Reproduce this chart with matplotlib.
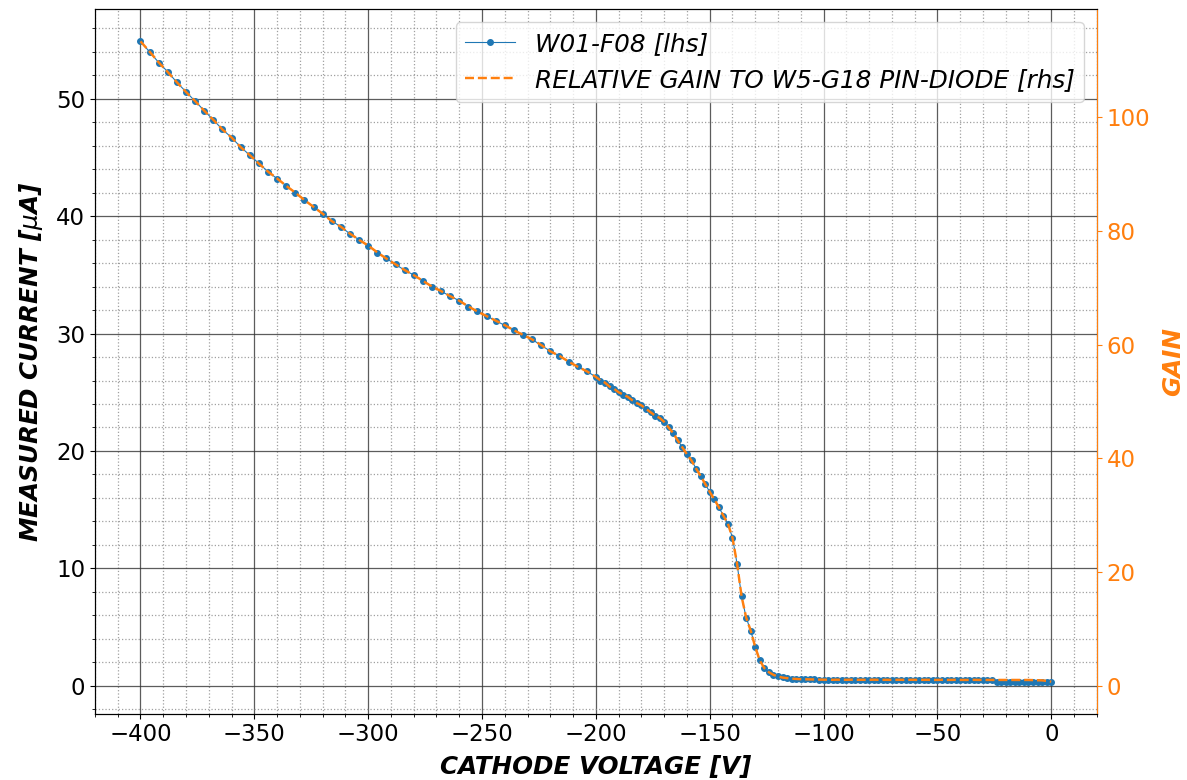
import matplotlib
matplotlib.use("Agg")
import matplotlib.pyplot as plt
from matplotlib.ticker import MultipleLocator

# Cathode voltage [V]
voltage = [
    -400, -396, -392, -388, -384, -380, -376, -372, -368, -364,
    -360, -356, -352, -348, -344, -340, -336, -332, -328, -324,
    -320, -316, -312, -308, -304, -300, -296, -292, -288, -284,
    -280, -276, -272, -268, -264, -260, -256, -252, -248, -244,
    -240, -236, -232, -228, -224, -220, -216, -212, -208, -204,
    -200, -198, -196, -194, -192, -190, -188, -186, -184, -182,
    -180, -178, -176, -174, -172, -170, -168, -166, -164, -162,
    -160, -158, -156, -154, -152, -150, -148, -146, -144, -142,
    -140, -138, -136, -134, -132, -130, -128, -126, -124, -122,
    -120, -118, -116, -114, -112, -110, -108, -106, -104, -102,
    -100, -98, -96, -94, -92, -90, -88, -86, -84, -82,
    -80, -78, -76, -74, -72, -70, -68, -66, -64, -62,
    -60, -58, -56, -54, -52, -50, -48, -46, -44, -42,
    -40, -38, -36, -34, -32, -30, -28, -26, -24, -22,
    -20, -18, -16, -14, -12, -10, -8, -6, -4, -2,
    0,
]

# Measured current of W01-F08 [uA]
current = [
    54.9, 54.0, 53.1, 52.3, 51.4, 50.6, 49.8, 49.0, 48.2, 47.4,
    46.7, 45.9, 45.2, 44.5, 43.8, 43.2, 42.6, 42.0, 41.4, 40.8,
    40.2, 39.6, 39.1, 38.5, 38.0, 37.5, 36.9, 36.4, 35.9, 35.4,
    35.0, 34.5, 34.0, 33.6, 33.2, 32.8, 32.3, 31.9, 31.5, 31.1,
    30.7, 30.3, 29.9, 29.5, 29.0, 28.5, 28.1, 27.6, 27.2, 26.8,
    26.3, 26.0, 25.8, 25.5, 25.3, 25.0, 24.8, 24.6, 24.3, 24.1,
    23.9, 23.6, 23.3, 23.0, 22.8, 22.5, 22.0, 21.5, 20.9, 20.3,
    19.7, 19.2, 18.5, 17.9, 17.2, 16.5, 15.9, 15.2, 14.5, 13.8,
    12.6, 10.4, 7.6, 5.8, 4.7, 3.3, 2.15, 1.5, 1.16, 0.93,
    0.79, 0.70, 0.65, 0.61, 0.58, 0.56, 0.55, 0.54, 0.53, 0.52,
    0.52, 0.52, 0.51, 0.52, 0.51, 0.51, 0.52, 0.51, 0.51, 0.51,
    0.51, 0.52, 0.51, 0.51, 0.51, 0.50, 0.51, 0.51, 0.50, 0.51,
    0.51, 0.50, 0.51, 0.51, 0.50, 0.50, 0.51, 0.50, 0.50, 0.51,
    0.50, 0.50, 0.50, 0.51, 0.50, 0.50, 0.50, 0.50, 0.35, 0.34,
    0.34, 0.34, 0.35, 0.34, 0.34, 0.34, 0.35, 0.34, 0.34, 0.34,
    0.35,
]

# Relative gain to W5-G18 PIN-diode
gain = [
    113.3, 111.5, 109.6, 107.9, 106.1, 104.4, 102.8, 101.1, 99.5, 97.8,
    96.4, 94.7, 93.3, 91.8, 90.4, 89.2, 87.9, 86.7, 85.4, 84.2,
    83.0, 81.7, 80.7, 79.5, 78.4, 77.4, 76.2, 75.1, 74.1, 73.1,
    72.2, 71.2, 70.2, 69.4, 68.5, 67.7, 66.7, 65.8, 65.0, 64.2,
    63.4, 62.5, 61.7, 60.9, 59.9, 58.8, 58.0, 57.0, 56.1, 55.3,
    54.3, 53.7, 53.3, 52.6, 52.2, 51.6, 51.2, 50.8, 50.2, 49.7,
    49.3, 48.7, 48.1, 47.5, 47.1, 46.4, 45.4, 44.4, 43.1, 41.9,
    40.7, 39.6, 38.2, 36.9, 35.5, 34.1, 32.8, 31.4, 29.9, 28.5,
    26.0, 21.5, 15.7, 12.0, 9.7, 6.8, 4.44, 3.10, 2.39, 1.92,
    1.63, 1.44, 1.34, 1.26, 1.20, 1.16, 1.14, 1.11, 1.09, 1.07,
    1.07, 1.07, 1.05, 1.07, 1.05, 1.05, 1.07, 1.05, 1.05, 1.05,
    1.05, 1.07, 1.05, 1.05, 1.05, 1.03, 1.05, 1.05, 1.03, 1.05,
    1.05, 1.03, 1.05, 1.05, 1.03, 1.03, 1.05, 1.03, 1.03, 1.05,
    1.03, 1.03, 1.03, 1.05, 1.03, 1.03, 1.03, 1.03, 1.02, 1.02,
    1.02, 1.02, 1.02, 1.02, 1.02, 1.02, 1.00, 0.98, 0.95, 0.85,
    0.72,
]

BLUE = "#1f77b4"
ORANGE = "#ff7f0e"

fig = plt.figure(figsize=(11.87, 7.8), dpi=100)
ax = fig.add_axes([0.080, 0.085, 0.844, 0.903])

l1, = ax.plot(voltage, current, color=BLUE, marker="o", markersize=4,
              linewidth=0.8, label="W01-F08 [lhs]")
ax.set_xlabel("CATHODE VOLTAGE [V]", fontsize=17.7, fontweight="bold",
              fontstyle="italic", labelpad=6)
ax.set_ylabel(r"MEASURED CURRENT [$\mu$A]", fontsize=17.7, fontweight="bold",
              fontstyle="italic", labelpad=8)
ax.tick_params(axis="both", which="major", labelsize=16.5)
ax.xaxis.set_minor_locator(MultipleLocator(10))
ax.yaxis.set_minor_locator(MultipleLocator(2))
ax.grid(which="major", color="#333333", linestyle="-", linewidth=0.9, alpha=0.8)
ax.grid(which="minor", color="#888888", linestyle=":", linewidth=0.9, alpha=0.8)

ax2 = ax.twinx()
l2, = ax2.plot(voltage, gain, color=ORANGE, linestyle="--", linewidth=1.75,
               label="RELATIVE GAIN TO W5-G18 PIN-DIODE [rhs]")
ax2.set_ylabel("GAIN", fontsize=17.7, fontweight="bold", fontstyle="italic",
               color=ORANGE, labelpad=8)
ax2.tick_params(axis="y", labelsize=16.5, colors=ORANGE)
ax2.spines["right"].set_color(ORANGE)

leg = ax2.legend(handles=[l1, l2], loc="upper right",
                 prop={"size": 17.8, "style": "italic"})

fig.savefig("out.png", dpi=100)
